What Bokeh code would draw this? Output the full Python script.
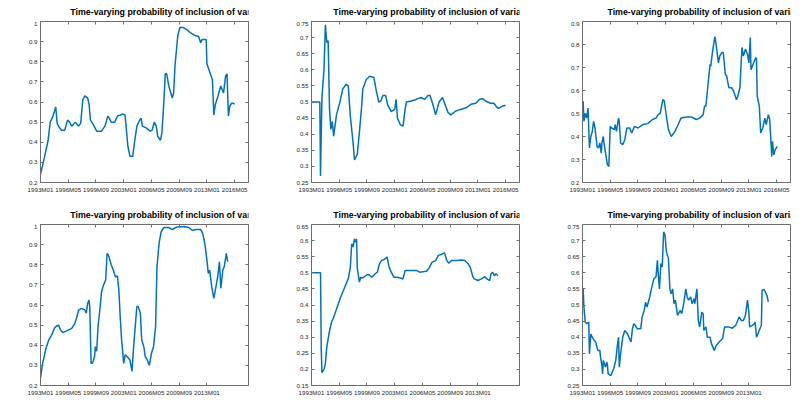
from bokeh.plotting import figure
from bokeh.models import (Range1d, FixedTicker, LinearAxis, Label,
                          NumeralTickFormatter, CustomJSTickFormatter)
from bokeh.layouts import row, column
from bokeh.embed import file_html
from bokeh.resources import INLINE

# ---- axis ticks -------------------------------------------------------------
month_ticks = [0, 40, 80, 120, 160, 200, 240, 280]
month_labels = ["1993M01", "1996M05", "1999M09", "2003M01",
                "2006M05", "2009M09", "2013M01", "2016M05"]

yticks_ip = [0.2, 0.3, 0.4, 0.5, 0.6, 0.7, 0.8, 0.9, 1.0]
yticks_neer12 = [0.25, 0.3, 0.35, 0.4, 0.45, 0.5, 0.55, 0.6, 0.65, 0.7, 0.75]
yticks_ers12 = [0.2, 0.3, 0.4, 0.5, 0.6, 0.7, 0.8, 0.9]
yticks_neer24 = [0.15, 0.2, 0.25, 0.3, 0.35, 0.4, 0.45, 0.5, 0.55, 0.6, 0.65]
yticks_ers24 = [0.25, 0.3, 0.35, 0.4, 0.45, 0.5, 0.55, 0.6, 0.65, 0.7, 0.75]

# ---- series: month index (0 = 1993M01) and inclusion probability ------------
m_ip12 = [0, 6, 11, 14, 18, 22, 24, 26, 30, 35, 39, 42, 45, 50, 55, 58, 61, 64, 68, 70,
          72, 75, 81, 88, 93, 97, 99, 102, 107, 111, 119, 122, 126, 129, 133, 136, 139,
          143, 145, 147, 153, 158, 161, 164, 167, 169, 173, 175, 177, 180, 182, 185, 190,
          192, 194, 198, 201, 206, 211, 216, 223, 228, 231, 233, 239, 240, 243, 248, 250,
          252, 256, 260, 264, 267, 269, 271, 273, 276, 280]
ip12 = [0.24, 0.33, 0.41, 0.50, 0.53, 0.575, 0.495, 0.48, 0.46, 0.46, 0.51, 0.50, 0.48,
        0.50, 0.48, 0.495, 0.61, 0.63, 0.62, 0.59, 0.51, 0.495, 0.455, 0.455, 0.48, 0.53,
        0.52, 0.50, 0.50, 0.53, 0.54, 0.535, 0.38, 0.33, 0.33, 0.41, 0.48, 0.51, 0.52,
        0.48, 0.47, 0.455, 0.46, 0.50, 0.48, 0.43, 0.41, 0.445, 0.545, 0.74, 0.74, 0.68,
        0.62, 0.645, 0.78, 0.93, 0.97, 0.97, 0.96, 0.945, 0.93, 0.925, 0.895, 0.91, 0.91,
        0.79, 0.76, 0.71, 0.535, 0.585, 0.63, 0.68, 0.645, 0.73, 0.74, 0.53, 0.58, 0.595,
        0.59]

m_neer12 = [0, 12, 13, 15, 18, 20, 22, 24, 26, 28, 30, 32, 36, 41, 45, 50, 53, 56, 60, 62,
            66, 69, 72, 74, 79, 84, 90, 93, 97, 100, 103, 107, 110, 115, 120, 122, 124,
            128, 132, 135, 137, 144, 151, 158, 163, 168, 171, 175, 179, 184, 189, 193,
            197, 201, 208, 215, 223, 230, 237, 242, 247, 251, 258, 263, 268, 270, 275, 280]
neer12 = [0.50, 0.50, 0.27, 0.51, 0.60, 0.74, 0.685, 0.69, 0.477, 0.415, 0.44, 0.394,
          0.46, 0.50, 0.54, 0.555, 0.55, 0.456, 0.373, 0.32, 0.337, 0.404, 0.478, 0.54,
          0.57, 0.58, 0.576, 0.54, 0.50, 0.503, 0.52, 0.52, 0.49, 0.47, 0.477, 0.508,
          0.45, 0.43, 0.425, 0.477, 0.50, 0.503, 0.508, 0.514, 0.508, 0.52, 0.52, 0.493,
          0.46, 0.50, 0.514, 0.49, 0.467, 0.46, 0.472, 0.477, 0.482, 0.493, 0.496, 0.508,
          0.511, 0.503, 0.496, 0.496, 0.482, 0.48, 0.487, 0.49]

m_ers12 = [1, 2, 4, 6, 8, 10, 12, 14, 16, 18, 21, 23, 25, 27, 28, 30, 31, 34, 36, 38, 40,
           42, 46, 47, 49, 52, 53, 55, 58, 61, 64, 68, 71, 75, 80, 87, 94, 101, 106, 109,
           112, 116, 118, 121, 124, 128, 133, 138, 142, 150, 157, 164, 169, 174, 176, 178,
           181, 184, 185, 188, 191, 193, 196, 198, 201, 203, 206, 208, 211, 215, 218, 222,
           224, 227, 230, 232, 235, 238, 240, 242, 243, 246, 250, 251, 252, 255, 257, 260,
           263, 265, 268, 270, 273, 274, 276, 278, 281]
ers12 = [0.553, 0.466, 0.50, 0.48, 0.524, 0.35, 0.40, 0.42, 0.466, 0.437, 0.357, 0.35,
         0.372, 0.328, 0.372, 0.40, 0.372, 0.313, 0.277, 0.27, 0.444, 0.437, 0.43, 0.452,
         0.422, 0.48, 0.466, 0.372, 0.364, 0.386, 0.437, 0.437, 0.415, 0.444, 0.437, 0.452,
         0.456, 0.474, 0.48, 0.495, 0.50, 0.561, 0.554, 0.488, 0.43, 0.40, 0.42, 0.452,
         0.48, 0.485, 0.485, 0.474, 0.48, 0.495, 0.532, 0.532, 0.626, 0.714, 0.706, 0.78,
         0.834, 0.794, 0.72, 0.75, 0.765, 0.765, 0.67, 0.663, 0.612, 0.612, 0.597, 0.56,
         0.575, 0.612, 0.787, 0.75, 0.78, 0.757, 0.72, 0.83, 0.69, 0.714, 0.743, 0.736,
         0.575, 0.532, 0.415, 0.437, 0.48, 0.452, 0.495, 0.474, 0.313, 0.379, 0.32, 0.343,
         0.357]

m_ip24 = [0, 3, 8, 12, 16, 20, 23, 26, 29, 32, 37, 45, 49, 52, 55, 59, 64, 66, 68, 70, 71,
          73, 75, 78, 79, 81, 83, 86, 88, 91, 94, 96, 98, 102, 105, 108, 111, 113, 115,
          117, 120, 122, 125, 129, 132, 134, 137, 139, 141, 144, 146, 149, 151, 154, 157,
          160, 163, 166, 168, 171, 174, 178, 185, 190, 197, 207, 214, 219, 224, 231, 234,
          237, 240, 242, 244, 247, 250, 253, 256, 258, 259, 260, 263, 265, 268, 270]
ip24 = [0.236, 0.31, 0.385, 0.427, 0.45, 0.484, 0.496, 0.50, 0.476, 0.463, 0.47, 0.484,
        0.505, 0.534, 0.575, 0.583, 0.575, 0.559, 0.608, 0.625, 0.59, 0.31, 0.31, 0.344,
        0.393, 0.37, 0.493, 0.59, 0.666, 0.70, 0.724, 0.856, 0.848, 0.80, 0.774, 0.74,
        0.744, 0.674, 0.54, 0.426, 0.31, 0.352, 0.344, 0.327, 0.27, 0.377, 0.509, 0.592,
        0.592, 0.559, 0.426, 0.393, 0.344, 0.327, 0.30, 0.36, 0.393, 0.493, 0.79, 0.906,
        0.964, 0.985, 0.985, 0.975, 0.988, 0.99, 0.985, 0.97, 0.975, 0.975, 0.955, 0.906,
        0.823, 0.757, 0.774, 0.69, 0.633, 0.69, 0.749, 0.815, 0.757, 0.683, 0.774, 0.79,
        0.856, 0.815]

m_neer24 = [0, 13, 14, 15, 18, 20, 22, 26, 29, 32, 37, 42, 46, 50, 53, 56, 58, 60, 62, 63,
            65, 66, 69, 71, 73, 75, 80, 83, 87, 92, 95, 98, 101, 106, 109, 112, 115, 119,
            123, 128, 132, 135, 142, 152, 156, 163, 166, 170, 174, 179, 183, 187, 192, 195,
            198, 202, 209, 216, 221, 226, 229, 233, 235, 240, 245, 250, 253, 257, 259, 261,
            264, 266, 269]
neer24 = [0.50, 0.50, 0.269, 0.19, 0.20, 0.217, 0.269, 0.32, 0.347, 0.362, 0.393, 0.424,
          0.445, 0.466, 0.481, 0.517, 0.59, 0.58, 0.605, 0.595, 0.605, 0.517, 0.471, 0.486,
          0.484, 0.486, 0.494, 0.494, 0.486, 0.497, 0.502, 0.528, 0.538, 0.543, 0.549,
          0.517, 0.502, 0.486, 0.486, 0.484, 0.481, 0.507, 0.507, 0.507, 0.502, 0.504,
          0.505, 0.517, 0.533, 0.538, 0.554, 0.557, 0.562, 0.538, 0.53, 0.538, 0.538, 0.54,
          0.538, 0.528, 0.517, 0.486, 0.481, 0.476, 0.481, 0.488, 0.481, 0.476, 0.497,
          0.502, 0.491, 0.497, 0.491]

m_ers24 = [1, 2, 4, 6, 9, 10, 12, 14, 17, 19, 22, 25, 26, 28, 29, 30, 33, 35, 36, 37, 41,
           45, 48, 50, 52, 53, 55, 58, 61, 65, 67, 70, 72, 74, 76, 79, 84, 86, 89, 91, 93,
           97, 100, 103, 106, 108, 109, 111, 113, 115, 117, 119, 121, 124, 126, 128, 130,
           132, 134, 137, 141, 143, 146, 149, 151, 153, 156, 158, 161, 162, 165, 167, 169,
           172, 174, 175, 178, 180, 184, 186, 190, 193, 197, 202, 205, 211, 216, 221, 226,
           229, 232, 235, 238, 240, 241, 245, 248, 249, 251, 254, 258, 259, 262, 266, 268]
ers24 = [0.55, 0.494, 0.447, 0.442, 0.447, 0.349, 0.41, 0.40, 0.39, 0.385, 0.359, 0.359,
         0.338, 0.312, 0.286, 0.328, 0.307, 0.323, 0.312, 0.286, 0.281, 0.302, 0.328,
         0.369, 0.40, 0.307, 0.349, 0.40, 0.421, 0.41, 0.40, 0.385, 0.426, 0.442, 0.437,
         0.426, 0.426, 0.463, 0.483, 0.509, 0.494, 0.525, 0.556, 0.582, 0.587, 0.639,
         0.603, 0.55, 0.629, 0.618, 0.727, 0.717, 0.665, 0.644, 0.55, 0.535, 0.55, 0.504,
         0.515, 0.468, 0.483, 0.473, 0.504, 0.55, 0.525, 0.515, 0.525, 0.504, 0.52, 0.504,
         0.55, 0.452, 0.432, 0.478, 0.473, 0.421, 0.432, 0.40, 0.40, 0.38, 0.359, 0.374,
         0.385, 0.395, 0.432, 0.432, 0.428, 0.437, 0.463, 0.452, 0.452, 0.468, 0.515,
         0.478, 0.432, 0.437, 0.442, 0.447, 0.40, 0.416, 0.437, 0.546, 0.548, 0.53, 0.51]

# ---- styling -----------------------------------------------------------------
LINE = "#0072BD"
AXIS = "#6e6e6e"
TEXT = "#262626"
FONT = "Liberation Sans"
FRAME_W = 208
LEFT = 37
STRIP_H = 18      # height of the title strip above each plot
PLOT_H = 181

# Arial-bold advance widths (em) for the title strings
ADV = {" ": .278, "-": .333, "T": .611, "i": .278, "m": .889, "e": .556, "v": .556,
       "a": .556, "r": .389, "y": .556, "n": .611, "g": .611, "p": .611, "o": .611,
       "b": .611, "l": .278, "t": .333, "f": .333, "c": .556, "u": .611, "s": .556,
       "I": .278, "P": .667, "N": .722, "E": .667, "R": .722, "S": .667, "1": .556,
       "2": .556, "4": .556}


def text_width(s, size):
    return sum(ADV.get(ch, .556) for ch in s) * size


def style_axis(ax, ticks):
    ax.ticker = FixedTicker(ticks=ticks)
    ax.major_tick_in = 3
    ax.major_tick_out = 0
    ax.minor_tick_line_color = None
    ax.axis_line_color = AXIS
    ax.major_tick_line_color = AXIS
    ax.major_label_text_font = FONT
    ax.major_label_text_font_size = "6.2px"
    ax.major_label_text_color = TEXT
    ax.major_label_standoff = 3


def title_strip(name, lag, width):
    """Bold title with a subscripted lag, centred over the plot frame."""
    s = figure(width=width, height=STRIP_H, x_range=Range1d(0, width),
               y_range=Range1d(0, STRIP_H), output_backend="svg", toolbar_location=None,
               x_axis_type=None, y_axis_type=None, min_border=0)
    s.grid.visible = False
    s.outline_line_color = None
    main = f"Time-varying probability of inclusion of variable {name}"
    sub = f"t-{lag}"
    main_size, sub_size = 8.8, 6.5
    split = LEFT + FRAME_W / 2 + (text_width(main, main_size) - text_width(sub, sub_size)) / 2
    s.add_layout(Label(x=split, y=4.6, x_units="screen", y_units="screen",
                       text=main, text_align="right", text_baseline="bottom",
                       text_font=FONT, text_font_style="bold",
                       text_font_size=f"{main_size}px", text_color="black"))
    s.add_layout(Label(x=split, y=0.2, x_units="screen", y_units="screen",
                       text=sub, text_align="left", text_baseline="bottom",
                       text_font=FONT, text_font_style="bold",
                       text_font_size=f"{sub_size}px", text_color="black"))
    return s


def panel(months, values, yrange, yticks, xticks, name, lag, width):
    p = figure(width=width, height=PLOT_H, x_range=Range1d(0, 300),
               y_range=Range1d(*yrange), output_backend="svg",
               toolbar_location=None, min_border_left=LEFT,
               min_border_right=width - LEFT - FRAME_W, min_border_top=0,
               min_border_bottom=20)
    p.grid.visible = False

    style_axis(p.xaxis[0], xticks)
    p.xaxis[0].major_label_overrides = {t: month_labels[i] for i, t in enumerate(xticks)}
    style_axis(p.yaxis[0], yticks)
    p.yaxis[0].formatter = NumeralTickFormatter(format="0.[00]")

    # mirrored tick marks on the top and right edges, without labels
    blank = CustomJSTickFormatter(code="return ''")
    top = LinearAxis(formatter=blank)
    style_axis(top, xticks)
    top.major_label_standoff = 0
    top.major_label_text_font_size = "0px"
    p.add_layout(top, "above")
    right = LinearAxis(formatter=blank)
    style_axis(right, yticks)
    p.add_layout(right, "right")

    p.line(months, values, line_color=LINE, line_width=1.5)
    return column(title_strip(name, lag, width), p, spacing=0)


c1 = panel(m_ip12, ip12, (0.2, 1.0), yticks_ip, month_ticks, "IP", 12, 267)
c2 = panel(m_neer12, neer12, (0.25, 0.75), yticks_neer12, month_ticks, "NEER", 12, 267)
c3 = panel(m_ers12, ers12, (0.2, 0.9), yticks_ers12, month_ticks, "ERS", 12, 265)
c4 = panel(m_ip24, ip24, (0.2, 1.0), yticks_ip, month_ticks[:7], "IP", 24, 267)
c5 = panel(m_neer24, neer24, (0.15, 0.65), yticks_neer24, month_ticks[:7], "NEER", 24, 267)
c6 = panel(m_ers24, ers24, (0.25, 0.75), yticks_ers24, month_ticks[:7], "ERS", 24, 265)

layout = column(row(c1, c2, c3, spacing=4), row(c4, c5, c6, spacing=4),
                spacing=4, margin=(3, 0, 0, 3))

open("out.html", "w").write(file_html(layout, INLINE))
